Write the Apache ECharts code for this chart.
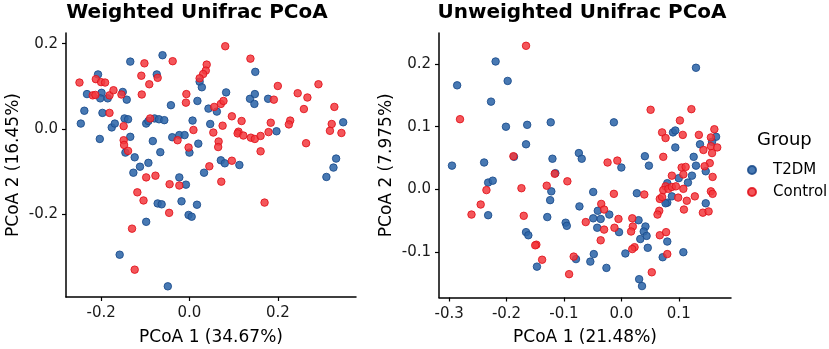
<!DOCTYPE html>
<html>
<head>
<meta charset="utf-8">
<script src="https://cdn.jsdelivr.net/npm/echarts@6/dist/echarts.min.js"></script>
<style>
  html, body { margin: 0; padding: 0; background: #fff; }
  #chart { width: 829px; height: 349px; }
</style>
</head>
<body>
<div id="chart"></div>
<script>
// weighted unifrac, [PCoA1, PCoA2]
const weightedT2DM = [
  [-0.061, 0.173], [-0.134, 0.158], [-0.207, 0.128], [-0.074, 0.128], [0.149, 0.134],
  [0.023, 0.111], [0.028, 0.098], [0.083, 0.086], [0.137, 0.071], [0.148, 0.082],
  [0.147, 0.059], [0.178, 0.071], [-0.232, 0.082], [-0.199, 0.085], [-0.202, 0.072],
  [-0.185, 0.072], [-0.151, 0.087], [-0.142, 0.069], [-0.238, 0.043], [-0.197, 0.038],
  [-0.246, 0.013], [-0.176, 0.004], [-0.169, 0.013], [-0.147, 0.025], [-0.139, 0.023],
  [-0.098, 0.013], [-0.093, 0.019], [-0.079, 0.025], [-0.069, 0.023], [-0.057, 0.021],
  [-0.042, 0.056], [0.018, 0.066], [0.007, 0.020], [0.043, 0.048], [0.062, 0.041],
  [0.047, 0.012], [0.197, -0.005], [0.348, 0.016], [-0.203, -0.023], [-0.134, -0.018],
  [-0.145, -0.055], [-0.124, -0.066], [-0.112, -0.088], [-0.093, -0.079], [-0.083, -0.028],
  [-0.066, -0.054], [-0.039, -0.019], [-0.023, -0.014], [-0.011, -0.014], [0.020, -0.034],
  [0.000, -0.055], [0.071, -0.073], [0.080, -0.080], [0.113, -0.084], [0.033, -0.102],
  [-0.127, -0.102], [-0.023, -0.113], [-0.008, -0.130], [-0.072, -0.174], [-0.063, -0.176],
  [-0.018, -0.169], [0.017, -0.177], [-0.002, -0.201], [0.005, -0.205], [-0.098, -0.217],
  [-0.158, -0.294], [-0.049, -0.368], [0.310, -0.112], [0.326, -0.090], [0.332, -0.069]
];
const weightedControl = [
  [0.081, 0.194], [-0.102, 0.154], [-0.038, 0.159], [0.138, 0.165], [0.039, 0.151],
  [0.037, 0.137], [0.031, 0.129], [0.023, 0.119], [-0.109, 0.125], [-0.072, 0.120],
  [-0.091, 0.105], [-0.249, 0.109], [-0.212, 0.117], [-0.200, 0.110], [-0.191, 0.109],
  [-0.219, 0.079], [-0.213, 0.080], [-0.181, 0.079], [-0.172, 0.091], [-0.154, 0.081],
  [-0.181, 0.038], [0.200, 0.101], [0.292, 0.105], [0.245, 0.084], [0.267, 0.074],
  [0.191, 0.069], [0.259, 0.047], [0.328, 0.052], [-0.007, 0.082], [-0.008, 0.062],
  [0.056, 0.052], [0.071, 0.059], [0.077, 0.066], [-0.108, 0.081], [0.096, 0.030],
  [0.118, 0.019], [-0.149, 0.007], [-0.089, 0.025], [0.009, -0.002], [0.075, 0.008],
  [0.054, -0.008], [0.111, -0.006], [0.109, -0.010], [0.122, -0.015], [0.139, -0.020],
  [0.148, -0.023], [0.161, -0.016], [0.179, -0.007], [0.184, 0.015], [0.228, 0.020],
  [0.225, 0.011], [0.322, 0.012], [0.318, -0.004], [0.344, -0.009], [-0.149, -0.026],
  [-0.148, -0.037], [-0.139, -0.051], [-0.027, -0.026], [-0.002, -0.043], [0.066, -0.029],
  [0.065, -0.042], [0.264, -0.033], [0.161, -0.052], [0.096, -0.074], [0.045, -0.087],
  [0.072, -0.123], [0.170, -0.172], [-0.098, -0.113], [-0.077, -0.109], [-0.045, -0.129],
  [-0.023, -0.132], [-0.118, -0.148], [-0.104, -0.167], [-0.046, -0.196], [-0.130, -0.233],
  [-0.124, -0.329]
];

// unweighted unifrac, [PCoA1, PCoA2]
const unweightedT2DM = [
  [-0.295, 0.038], [-0.286, 0.166], [-0.219, 0.204], [-0.198, 0.173], [-0.227, 0.140],
  [-0.201, 0.100], [-0.164, 0.103], [-0.123, 0.107], [-0.166, 0.072], [-0.187, 0.052],
  [-0.120, 0.049], [-0.239, 0.043], [-0.232, 0.011], [-0.224, 0.014], [-0.232, -0.041],
  [-0.115, 0.026], [-0.122, -0.003], [-0.124, -0.017], [-0.129, -0.044], [-0.166, -0.068],
  [-0.162, -0.073], [-0.147, -0.123], [-0.097, -0.053], [-0.095, -0.058], [-0.074, 0.058],
  [-0.069, 0.049], [-0.073, -0.027], [-0.079, -0.111], [-0.048, -0.103], [-0.054, -0.115],
  [-0.026, -0.125], [-0.049, -0.004], [-0.049, -0.046], [-0.041, -0.034], [-0.036, -0.047],
  [-0.021, -0.040], [-0.042, -0.061], [-0.004, -0.068], [-0.013, 0.107], [0.000, 0.035],
  [0.027, -0.006], [0.030, -0.049], [0.042, -0.059], [0.039, -0.067], [0.044, -0.074],
  [0.033, -0.079], [0.046, -0.093], [0.007, -0.102], [0.031, -0.143], [0.036, -0.154],
  [0.041, 0.053], [0.048, 0.038], [0.080, -0.083], [0.072, -0.108], [0.108, -0.100],
  [0.130, 0.194], [0.090, 0.091], [0.094, 0.094], [0.094, 0.067], [0.137, 0.072],
  [0.165, 0.084], [0.158, 0.076], [0.126, 0.052], [0.130, 0.038], [0.147, 0.029],
  [0.123, 0.022], [0.116, 0.011], [0.100, 0.018], [0.080, 0.010], [0.080, -0.021],
  [0.077, -0.022], [0.088, -0.011], [0.147, -0.022]
];
const unweightedControl = [
  [-0.166, 0.229], [-0.281, 0.112], [-0.188, 0.053], [-0.116, 0.025], [-0.235, -0.001],
  [-0.245, -0.024], [-0.261, -0.040], [-0.174, 0.002], [-0.170, -0.042], [-0.130, 0.006],
  [-0.094, 0.013], [-0.148, -0.088], [-0.150, -0.089], [-0.138, -0.112], [-0.091, -0.135],
  [-0.083, -0.107], [-0.062, -0.052], [-0.024, 0.043], [-0.007, 0.046], [-0.013, -0.007],
  [-0.035, -0.023], [-0.030, -0.032], [-0.030, -0.064], [-0.036, -0.081], [-0.012, -0.061],
  [-0.005, -0.047], [0.019, -0.046], [0.020, -0.059], [0.017, -0.067], [0.023, -0.092],
  [0.019, -0.095], [0.040, -0.008], [0.051, 0.127], [0.053, -0.132], [0.067, -0.073],
  [0.078, -0.068], [0.080, -0.103], [0.066, -0.034], [0.063, -0.040], [0.067, -0.015],
  [0.071, -0.012], [0.122, 0.128], [0.102, 0.110], [0.071, 0.091], [0.077, 0.082],
  [0.107, 0.087], [0.135, 0.087], [0.162, 0.096], [0.156, 0.083], [0.143, 0.063],
  [0.156, 0.069], [0.167, 0.067], [0.158, 0.058], [0.073, 0.052], [0.154, 0.042],
  [0.145, 0.037], [0.105, 0.035], [0.112, 0.036], [0.108, 0.024], [0.088, 0.022],
  [0.159, 0.020], [0.077, 0.005], [0.073, -0.001], [0.082, 0.001], [0.088, 0.004],
  [0.095, 0.005], [0.108, 0.001], [0.099, -0.013], [0.114, -0.018], [0.128, -0.011],
  [0.156, -0.003], [0.159, -0.007], [0.109, -0.032], [0.142, -0.037], [0.152, -0.035]
];

const weightedXTicks = [-0.2, 0, 0.2];
const weightedYTicks = [-0.2, 0, 0.2];
const unweightedXTicks = [-0.3, -0.2, -0.1, 0, 0.1];
const unweightedYTicks = [-0.1, 0, 0.1, 0.2];

const groups = ['T2DM', 'Control'];
const titles = ['Weighted Unifrac PCoA', 'Unweighted Unifrac PCoA'];
const xNames = ['PCoA 1 (34.67%)', 'PCoA 1 (21.48%)'];
const yNames = ['PCoA 2 (16.45%)', 'PCoA 2 (7.975%)'];

const font = 'DejaVu Sans';
const blue = { color: '#2f66a8', borderColor: '#1b4c8c', borderWidth: 1, opacity: 0.88 };
const red = { color: '#f2383d', borderColor: '#e0111a', borderWidth: 1, opacity: 0.85 };

let myChart = echarts.init(document.getElementById('chart'));

function xAxisOf(i, min, max, ticks) {
  return {
    type: 'value', gridIndex: i, min: min, max: max,
    name: xNames[i], nameLocation: 'middle', nameGap: 32,
    nameTextStyle: { fontFamily: font, fontSize: 17, color: '#000' },
    splitLine: { show: false },
    axisLine: { show: true, onZero: false, lineStyle: { color: '#000', width: 1.5 } },
    axisTick: { show: true, length: 4, customValues: ticks, lineStyle: { color: '#000', width: 1.2 } },
    axisLabel: { customValues: ticks, margin: 9, fontFamily: font, fontSize: 15, color: '#1a1a1a',
      formatter: v => v.toFixed(1) }
  };
}
function yAxisOf(i, min, max, ticks) {
  return {
    type: 'value', gridIndex: i, min: min, max: max,
    name: yNames[i], nameLocation: 'middle', nameGap: 44,
    nameTextStyle: { fontFamily: font, fontSize: 17, color: '#000' },
    splitLine: { show: false },
    axisLine: { show: true, onZero: false, lineStyle: { color: '#000', width: 1.5 } },
    axisTick: { show: true, length: 4, customValues: ticks, lineStyle: { color: '#000', width: 1.2 } },
    axisLabel: { customValues: ticks, margin: 8, fontFamily: font, fontSize: 15, color: '#1a1a1a',
      formatter: v => v.toFixed(1) }
  };
}
function pts(name, i, data, style) {
  return {
    name: name, type: 'scatter', xAxisIndex: i, yAxisIndex: i,
    data: data, symbol: 'circle', symbolSize: 7.5,
    itemStyle: style, emphasis: { disabled: true }
  };
}

let option = {
  animation: false,
  backgroundColor: '#fff',
  textStyle: { fontFamily: font },
  title: [
    { text: titles[0], left: 197, top: 3, textAlign: 'center', padding: 0,
      textStyle: { fontFamily: font, fontWeight: 'bold', fontSize: 20, color: '#000' } },
    { text: titles[1], left: 582, top: 3, textAlign: 'center', padding: 0,
      textStyle: { fontFamily: font, fontWeight: 'bold', fontSize: 20, color: '#000' } }
  ],
  grid: [
    { left: 66, top: 33, width: 290, height: 264, outerBoundsMode: 'none', containLabel: false },
    { left: 439, top: 33, width: 292, height: 264.5, outerBoundsMode: 'none', containLabel: false }
  ],
  xAxis: [
    xAxisOf(0, -0.2795, 0.377, weightedXTicks),
    xAxisOf(1, -0.3176, 0.191, unweightedXTicks)
  ],
  yAxis: [
    yAxisOf(0, -0.393, 0.225, weightedYTicks),
    yAxisOf(1, -0.1722, 0.2494, unweightedYTicks)
  ],
  legend: {
    data: groups, orient: 'vertical', left: 742, top: 157,
    itemWidth: 32, itemHeight: 8, itemGap: 6, icon: 'circle',
    textStyle: { fontFamily: font, fontSize: 15, color: '#000', lineHeight: 16 }
  },
  graphic: [
    { type: 'text', left: 757, top: 131,
      style: { text: 'Group', font: '18px "DejaVu Sans"', fill: '#000' } }
  ],
  series: [
    pts('T2DM', 0, weightedT2DM, blue),
    pts('Control', 0, weightedControl, red),
    pts('T2DM', 1, unweightedT2DM, blue),
    pts('Control', 1, unweightedControl, red)
  ]
};
myChart.setOption(option);
</script>
</body>
</html>
